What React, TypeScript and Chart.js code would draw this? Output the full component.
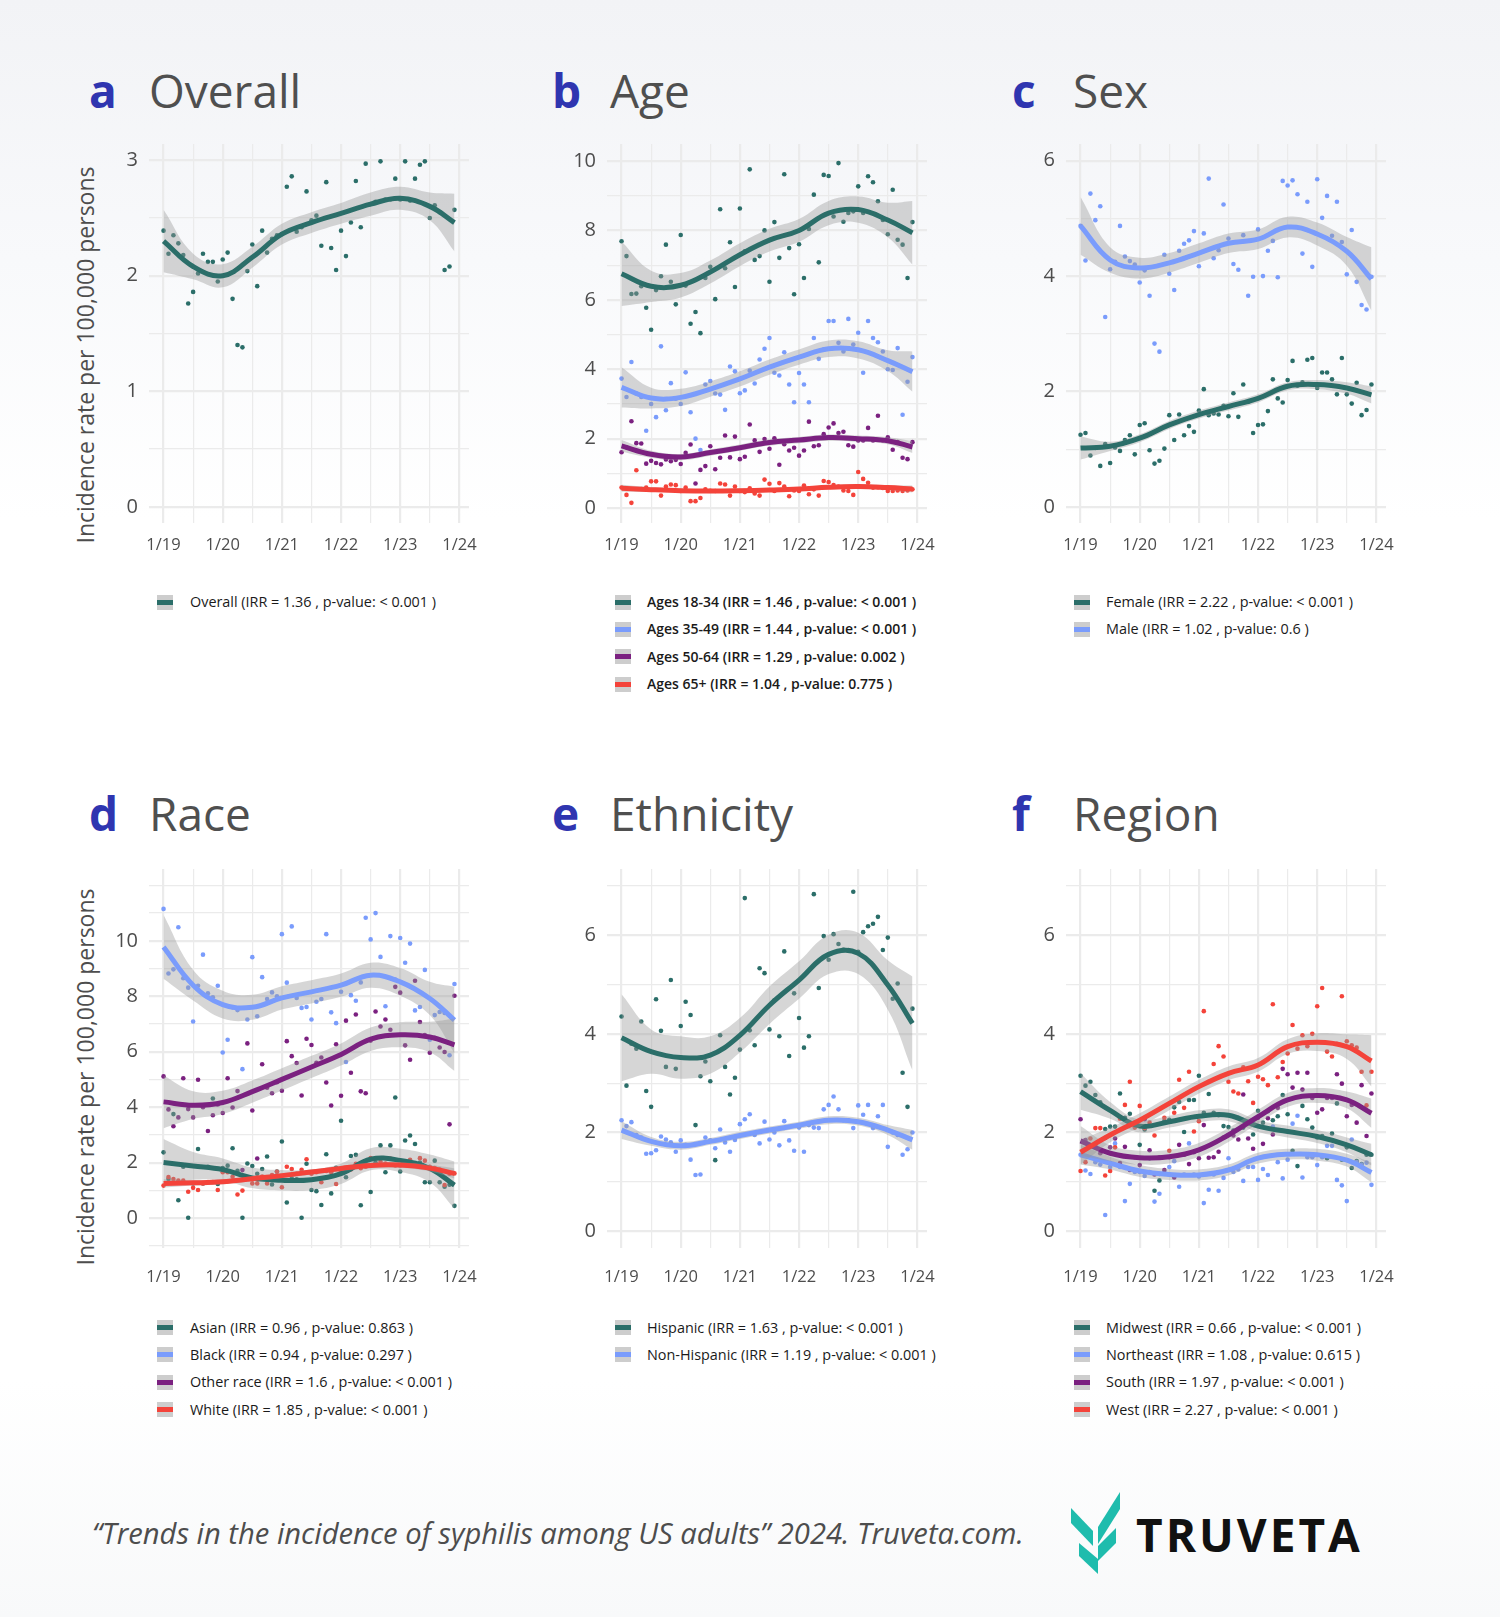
import React, { useEffect, useRef } from "react";
import { Chart, registerables } from "chart.js";

Chart.register(...registerables);

// ---------- data ----------
// monthly samples Jan 2019 (0) .. Dec 2023 (59)
const MONTHS = [...Array(60).keys()];
// months at which the smoothed fit / confidence band was read
const FIT_MONTHS = [0, 6, 12, 18, 24, 30, 36, 42, 48, 54, 59];
const X_TICKS = [0, 6, 12, 18, 24, 30, 36, 42, 48, 54, 60];
const X_LABELS = ["1/19", "1/20", "1/21", "1/22", "1/23", "1/24"];

// a Overall
const OVERALL_PTS = [2.39,2.19,2.35,2.28,2.18,1.76,1.86,2.02,2.19,2.12, 2.12,1.95,2.14,2.2,1.8,1.4,1.38,2.04,2.27,1.91, 2.39,2.2,2.32,2.35,2.36,2.77,2.86,2.38,2.42,2.73, 2.48,2.52,2.26,2.81,2.24,2.05,2.39,2.17,2.46,2.82, 2.42,2.97,2.62,2.64,2.99,2.66,2.66,2.84,2.66,2.99, 2.65,2.84,2.96,2.99,2.5,2.61,2.55,2.05,2.08,2.57];
const OVERALL_FIT = [2.3,2.08,2.0,2.16,2.36,2.46,2.54,2.62,2.67,2.6,2.46];
const OVERALL_CI = [0.27,0.11,0.1,0.09,0.09,0.09,0.09,0.1,0.1,0.12,0.25];

// b Age
const AGE1834_PTS = [7.69,7.26,6.17,6.18,6.39,5.77,5.14,6.28,6.68,7.59, 6.52,5.87,7.87,6.41,5.31,5.65,5.04,6.63,6.95,6.02, 8.61,6.91,7.66,6.37,8.63,7.4,9.76,7.15,7.26,8.0, 6.52,8.24,7.21,9.62,7.49,6.16,7.6,6.63,8.04,9.03, 7.08,9.6,9.57,8.4,9.94,8.25,8.5,8.55,9.27,8.5, 9.56,9.39,8.84,8.3,7.89,9.17,7.73,7.59,6.63,8.24];
const AGE1834_FIT = [6.75,6.39,6.42,6.8,7.3,7.72,8.0,8.5,8.6,8.3,7.93];
const AGE1834_CI = [0.93,0.45,0.35,0.33,0.33,0.33,0.33,0.35,0.38,0.5,0.92];
const AGE3549_PTS = [3.73,3.2,4.21,3.3,3.2,2.23,3.0,2.62,4.66,2.82, 3.6,3.15,3.0,3.91,2.76,2.0,1.67,3.56,3.66,3.3, 3.27,2.83,4.08,3.94,3.31,3.39,3.96,3.59,4.28,4.59, 4.9,3.9,3.82,4.49,3.56,3.05,3.89,3.56,3.05,4.9, 4.3,4.57,5.39,5.39,4.76,4.51,5.45,4.71,5.05,3.9, 5.39,4.9,4.78,4.51,4.0,3.98,4.61,2.69,3.64,4.35];
const AGE3549_FIT = [3.48,3.17,3.19,3.43,3.72,4.06,4.35,4.59,4.56,4.25,3.93];
const AGE3549_CI = [0.58,0.3,0.25,0.22,0.22,0.22,0.22,0.24,0.25,0.3,0.58];
const AGE5064_PTS = [1.61,1.75,2.5,1.87,1.86,1.28,1.36,1.3,1.26,1.4, 1.35,1.39,1.27,1.59,1.83,0.71,1.1,1.21,1.78,1.12, 1.45,2.09,1.46,2.06,1.41,1.48,2.41,1.95,1.62,1.99, 1.71,2.01,1.25,1.84,1.66,1.74,1.51,1.66,2.49,1.78, 1.81,2.13,2.32,2.44,2.16,2.2,1.81,1.77,1.95,1.95, 2.31,1.95,2.66,1.95,2.04,1.68,1.9,1.45,1.41,1.9];
const AGE5064_FIT = [1.79,1.55,1.47,1.6,1.74,1.89,1.96,2.03,2.0,1.94,1.76];
const AGE5064_CI = [0.17,0.1,0.09,0.09,0.09,0.09,0.09,0.09,0.09,0.1,0.17];
const AGE65_PTS = [0.59,0.38,0.15,1.09,0.55,0.59,0.77,0.77,0.36,0.62, 0.68,0.66,0.49,0.59,0.2,0.2,0.29,0.54,0.5,0.49, 0.71,0.68,0.36,0.62,0.49,0.46,0.57,0.42,0.36,0.82, 0.7,0.49,0.72,0.62,0.34,0.51,0.49,0.65,0.4,0.54, 0.36,0.78,0.75,0.66,0.62,0.51,0.49,0.38,1.04,0.84, 0.73,0.59,0.6,0.58,0.49,0.49,0.51,0.49,0.51,0.54];
const AGE65_FIT = [0.57,0.53,0.5,0.49,0.5,0.52,0.55,0.6,0.62,0.59,0.55];
const AGE65_CI = [0.1,0.07,0.06,0.06,0.06,0.06,0.06,0.06,0.07,0.07,0.1];

// c Sex
const FEMALE_PTS = [1.25,1.28,0.89,1.02,0.71,1.09,0.76,1.03,0.97,1.16, 1.24,0.91,1.42,1.45,0.98,0.75,0.8,1.01,1.59,1.16, 1.6,1.24,1.4,1.3,1.67,2.04,1.59,1.62,1.6,1.75, 1.57,1.97,1.56,2.12,1.82,1.28,1.42,1.43,1.66,2.21, 1.88,1.81,2.2,2.53,2.1,2.16,2.55,2.58,2.06,2.33, 2.33,2.21,1.95,2.58,1.95,1.79,2.15,1.59,1.68,2.12];
const FEMALE_FIT = [1.02,1.05,1.19,1.42,1.6,1.74,1.88,2.09,2.12,2.06,1.94];
const FEMALE_CI = [0.2,0.08,0.07,0.07,0.07,0.07,0.07,0.07,0.08,0.1,0.15];
const MALE_PTS = [4.87,4.27,5.43,4.97,5.21,3.29,4.12,4.25,4.87,4.34, 4.26,4.2,3.89,4.1,3.66,2.83,2.69,4.37,4.04,3.76, 4.44,4.56,4.62,4.78,4.17,4.74,5.69,4.31,4.45,5.24, 4.65,4.21,4.11,4.71,3.66,3.99,4.81,4.0,4.44,4.61, 3.98,5.65,5.57,5.66,5.42,4.39,5.29,4.16,5.68,5.01, 5.39,4.7,5.29,4.59,4.03,4.8,3.9,3.5,3.42,3.99];
const MALE_FIT = [4.87,4.28,4.14,4.23,4.4,4.57,4.64,4.85,4.73,4.43,3.95];
const MALE_CI = [0.5,0.22,0.18,0.17,0.17,0.17,0.17,0.18,0.2,0.25,0.55];

// d Race
const ASIAN_PTS = [2.37,1.41,3.75,0.64,1.85,0.01,1.25,2.49,1.25,1.85, 4.31,1.23,1.8,1.89,2.52,1.7,0.01,1.97,1.88,1.6, 1.77,2.22,1.21,1.68,2.76,0.56,1.43,1.4,0.01,1.96, 1.01,0.97,0.47,2.3,0.89,1.81,3.51,1.47,2.24,2.28, 0.46,1.9,0.94,2.0,2.62,1.65,2.62,4.35,1.68,2.8, 2.98,2.67,2.0,1.29,1.29,2.07,1.29,1.13,1.2,0.44];
const ASIAN_FIT = [2.0,1.88,1.75,1.45,1.36,1.38,1.6,2.12,2.08,1.79,1.19];
const ASIAN_CI = [0.85,0.5,0.4,0.37,0.37,0.37,0.37,0.4,0.42,0.5,0.85];
const BLACK_PTS = [11.15,8.82,8.97,10.49,8.65,8.31,7.09,8.38,9.5,8.11, 7.96,8.38,5.97,6.43,7.6,7.5,5.37,7.16,9.41,7.28, 8.69,7.9,8.14,8.0,10.24,8.49,10.52,7.94,7.58,7.61, 7.16,7.8,7.9,10.24,7.42,7.03,8.16,5.63,8.04,7.84, 8.5,10.83,10.05,11.0,9.42,7.64,10.17,8.6,10.1,9.21, 9.9,7.49,7.61,8.95,6.43,7.32,7.43,7.4,5.87,8.44];
const BLACK_FIT = [9.78,8.4,7.7,7.6,7.94,8.16,8.4,8.76,8.52,7.92,7.14];
const BLACK_CI = [1.15,0.55,0.5,0.45,0.42,0.42,0.42,0.45,0.5,0.6,1.2];
const OTHER_PTS = [5.11,3.92,3.31,3.63,5.04,3.93,3.63,4.99,4.0,3.14, 3.71,4.1,3.79,5.04,3.99,4.58,1.73,6.3,3.88,2.15, 5.55,4.7,4.5,4.9,4.59,6.38,5.84,5.59,4.42,6.47, 6.24,5.6,5.79,4.89,4.06,6.27,4.41,7.12,5.24,7.34, 4.57,4.5,6.4,7.45,6.91,7.16,6.79,8.34,8.13,6.23, 5.71,8.56,7.07,6.6,5.96,6.5,6.15,5.99,3.38,8.02];
const OTHER_FIT = [4.19,4.07,4.17,4.56,5.0,5.45,5.9,6.45,6.61,6.53,6.25];
const OTHER_CI = [0.95,0.5,0.42,0.4,0.4,0.4,0.4,0.42,0.45,0.55,0.95];
const WHITE_PTS = [1.17,1.48,1.41,1.35,1.35,0.95,1.09,1.01,1.25,1.3, 1.3,1.01,1.65,1.65,1.49,0.85,0.99,1.45,1.25,1.25, 1.5,1.25,1.55,1.67,1.11,1.85,1.77,1.6,1.74,2.12, 1.6,1.65,1.29,1.7,1.65,1.23,1.69,1.75,1.75,1.96, 1.8,1.85,2.16,2.14,2.03,1.97,2.15,1.9,1.9,1.95, 2.1,1.9,2.16,2.07,1.85,1.8,1.75,1.19,1.6,1.61];
const WHITE_FIT = [1.25,1.27,1.31,1.42,1.53,1.66,1.79,1.9,1.91,1.8,1.61];
const WHITE_CI = [0.15,0.1,0.09,0.09,0.09,0.09,0.09,0.1,0.1,0.12,0.18];

// e Ethnicity
const HISP_PTS = [4.35,2.95,3.8,3.7,4.25,2.84,2.52,4.7,4.06,3.33, 5.09,3.29,4.16,4.65,4.38,2.15,3.14,3.44,3.04,1.44, 3.97,3.33,2.77,3.11,3.68,6.75,4.07,3.77,5.33,5.23, 4.09,4.68,3.95,5.67,3.55,4.82,4.32,3.72,3.95,6.83, 4.93,5.98,5.5,6.02,5.82,5.71,5.7,6.88,5.66,6.06, 6.18,6.23,6.37,5.7,5.95,4.71,5.02,3.21,2.52,4.51];
const HISP_FIT = [3.92,3.64,3.52,3.57,3.97,4.58,5.09,5.61,5.63,4.99,4.21];
const HISP_CI = [0.88,0.45,0.43,0.38,0.35,0.38,0.38,0.4,0.42,0.5,0.95];
const NONHISP_PTS = [2.25,2.13,2.21,1.95,1.9,1.57,1.58,1.64,1.92,1.86, 1.8,1.61,1.84,1.75,1.45,1.14,1.15,1.9,1.84,1.68, 2.06,1.8,1.61,1.85,2.17,2.27,2.37,1.95,1.78,2.22, 1.86,2.0,1.74,2.23,1.84,1.63,2.1,1.61,2.15,2.1, 2.09,2.47,2.56,2.73,2.47,2.25,2.25,2.09,2.55,2.36, 2.56,2.09,2.33,2.56,1.71,2.0,1.95,1.55,1.66,2.0];
const NONHISP_FIT = [2.05,1.82,1.73,1.82,1.94,2.05,2.15,2.25,2.22,2.05,1.85];
const NONHISP_CI = [0.18,0.09,0.08,0.07,0.07,0.07,0.07,0.08,0.08,0.1,0.2];

// f Region
const MIDWEST_PTS = [3.15,2.95,3.03,2.76,2.61,2.07,2.12,2.12,2.79,2.3, 2.38,2.2,1.75,2.06,1.48,0.82,1.03,2.23,2.26,2.51, 2.62,2.01,2.66,2.66,3.15,2.4,2.78,2.4,2.35,2.13, 2.11,2.04,2.3,2.1,2.2,1.96,2.44,2.2,2.43,2.25, 2.33,2.76,2.37,1.63,1.32,2.54,2.27,2.1,1.9,1.93, 1.48,1.98,2.59,1.45,1.7,1.28,1.42,1.36,1.55,1.55];
const MIDWEST_FIT = [2.83,2.45,2.13,2.22,2.33,2.35,2.13,2.02,1.92,1.75,1.55];
const MIDWEST_CI = [0.37,0.17,0.13,0.12,0.12,0.12,0.12,0.12,0.13,0.15,0.22];
const NORTHEAST_PTS = [1.55,1.23,1.16,1.4,1.35,0.33,1.3,1.78,1.3,0.61, 0.96,1.2,1.2,1.12,1.2,0.6,0.76,1.2,1.3,1.42, 0.9,1.15,1.78,1.15,1.11,0.57,0.84,1.15,0.82,1.08, 1.48,1.2,1.25,1.02,1.3,1.3,1.04,1.26,1.14,2.12, 1.4,1.07,1.45,2.18,2.34,1.09,1.5,1.5,1.34,1.5, 1.73,1.73,1.04,0.93,0.61,1.86,1.4,1.35,1.39,0.94];
const NORTHEAST_FIT = [1.55,1.38,1.22,1.15,1.14,1.24,1.48,1.56,1.55,1.44,1.19];
const NORTHEAST_CI = [0.2,0.13,0.12,0.11,0.11,0.11,0.11,0.11,0.12,0.13,0.2];
const SOUTH_PTS = [2.27,1.85,1.74,1.75,1.58,1.89,1.7,1.88,1.38,1.71, 1.24,1.5,1.34,2.27,1.64,1.15,1.5,1.24,1.5,1.09, 1.75,1.55,1.36,1.6,1.48,2.15,1.49,1.5,1.61,1.9, 1.95,1.94,1.86,2.77,1.88,1.67,2.3,1.77,2.29,1.96, 2.5,3.29,3.18,2.91,3.21,2.87,3.21,2.7,2.4,2.47, 2.7,2.7,3.18,2.99,2.33,2.56,2.2,2.96,1.93,2.79];
const SOUTH_FIT = [1.83,1.58,1.49,1.51,1.65,1.95,2.32,2.66,2.75,2.66,2.39];
const SOUTH_CI = [0.3,0.16,0.14,0.14,0.14,0.14,0.14,0.14,0.15,0.17,0.3];
const WEST_PTS = [1.22,1.4,1.88,2.09,2.09,1.13,1.22,1.7,2.28,2.56, 3.03,2.1,2.54,2.09,2.2,1.94,1.16,2.3,1.63,2.4, 3.07,2.5,3.23,2.02,2.23,4.46,3.03,3.39,3.75,3.54, 3.03,2.83,2.79,3.32,3.04,2.6,3.13,3.08,2.96,4.6, 3.12,3.43,3.6,4.18,3.7,3.97,3.75,4.0,4.56,4.93, 3.64,3.54,3.8,4.76,3.85,3.77,3.72,3.23,2.55,3.23];
const WEST_FIT = [1.6,1.95,2.25,2.59,2.93,3.2,3.37,3.74,3.83,3.74,3.45];
const WEST_CI = [0.25,0.15,0.14,0.14,0.14,0.14,0.14,0.15,0.18,0.25,0.52];

// y-axis grid values and labelled ticks
const Y_GRID_A = [0, 0.5, 1, 1.5, 2, 2.5, 3];
const Y_LABELS_A = [0, 1, 2, 3];
const Y_GRID_B = [0, 1, 2, 3, 4, 5, 6, 7, 8, 9, 10];
const Y_LABELS_B = [0, 2, 4, 6, 8, 10];
const Y_GRID_C = [0, 1, 2, 3, 4, 5, 6];
const Y_LABELS_C = [0, 2, 4, 6];
const Y_GRID_D = [-1, 0, 1, 2, 3, 4, 5, 6, 7, 8, 9, 10, 11, 12];
const Y_LABELS_D = [0, 2, 4, 6, 8, 10];
const Y_GRID_EF = [0, 1, 2, 3, 4, 5, 6, 7];
const Y_LABELS_EF = [0, 2, 4, 6];

// ---------- styling ----------
const TEAL = "#2b6e69";
const BLUE = "#7a9cfc";
const PURPLE = "#7b2180";
const RED = "#f4433a";
const BAND = "rgba(153,153,153,0.4)";
const GRID = "#ebebeb";
const FONT = "'Open Sans', 'Noto Sans', sans-serif";

const COL_LEFT = [149, 607, 1066];
const ROW_TOP = [144, 869];
const CHART_W = 320;
const CHART_H = 379;
const WY = 60, PT = 10, PR = 26, HX = 52;
const LETTER_X = [89, 552, 1012];
const WORD_X = [149, 610, 1073];
const TITLE_TOP = [67, 790];
const SWATCH_X = [157, 615, 1074];
const TEXT_X = [190, 647, 1106];
const LEGEND_Y = [602, 1327.5];
const LEGEND_STEP = 27.4;
const XLABEL_PAD = [12.5, 19.5];

const PANELS = [
  { letter: "a", title: "Overall", col: 0, row: 0, yMin: -0.14, yMax: 3.14, yGrid: Y_GRID_A, yLabels: Y_LABELS_A, yTitle: true, bold: false,
    series: [{ name: "Overall (IRR = 1.36 , p-value: < 0.001 )", color: TEAL, pts: OVERALL_PTS, fit: OVERALL_FIT, ci: OVERALL_CI }] },
  { letter: "b", title: "Age", col: 1, row: 0, yMin: -0.43, yMax: 10.49, yGrid: Y_GRID_B, yLabels: Y_LABELS_B, yTitle: false, bold: true,
    series: [
      { name: "Ages 18-34 (IRR = 1.46 , p-value: < 0.001 )", color: TEAL, pts: AGE1834_PTS, fit: AGE1834_FIT, ci: AGE1834_CI },
      { name: "Ages 35-49 (IRR = 1.44 , p-value: < 0.001 )", color: BLUE, pts: AGE3549_PTS, fit: AGE3549_FIT, ci: AGE3549_CI },
      { name: "Ages 50-64 (IRR = 1.29 , p-value: 0.002 )", color: PURPLE, pts: AGE5064_PTS, fit: AGE5064_FIT, ci: AGE5064_CI },
      { name: "Ages 65+ (IRR = 1.04 , p-value: 0.775 )", color: RED, pts: AGE65_PTS, fit: AGE65_FIT, ci: AGE65_CI },
    ] },
  { letter: "c", title: "Sex", col: 2, row: 0, yMin: -0.28, yMax: 6.29, yGrid: Y_GRID_C, yLabels: Y_LABELS_C, yTitle: false, bold: false,
    series: [
      { name: "Female (IRR = 2.22 , p-value: < 0.001 )", color: TEAL, pts: FEMALE_PTS, fit: FEMALE_FIT, ci: FEMALE_CI },
      { name: "Male (IRR = 1.02 , p-value: 0.6 )", color: BLUE, pts: MALE_PTS, fit: MALE_FIT, ci: MALE_CI },
    ] },
  { letter: "d", title: "Race", col: 0, row: 1, yMin: -1.08, yMax: 12.59, yGrid: Y_GRID_D, yLabels: Y_LABELS_D, yTitle: true, bold: false,
    series: [
      { name: "Asian (IRR = 0.96 , p-value: 0.863 )", color: TEAL, pts: ASIAN_PTS, fit: ASIAN_FIT, ci: ASIAN_CI },
      { name: "Black (IRR = 0.94 , p-value: 0.297 )", color: BLUE, pts: BLACK_PTS, fit: BLACK_FIT, ci: BLACK_CI },
      { name: "Other race (IRR = 1.6 , p-value: < 0.001 )", color: PURPLE, pts: OTHER_PTS, fit: OTHER_FIT, ci: OTHER_CI },
      { name: "White (IRR = 1.85 , p-value: < 0.001 )", color: RED, pts: WHITE_PTS, fit: WHITE_FIT, ci: WHITE_CI },
    ] },
  { letter: "e", title: "Ethnicity", col: 1, row: 1, yMin: -0.34, yMax: 7.34, yGrid: Y_GRID_EF, yLabels: Y_LABELS_EF, yTitle: false, bold: false,
    series: [
      { name: "Hispanic (IRR = 1.63 , p-value: < 0.001 )", color: TEAL, pts: HISP_PTS, fit: HISP_FIT, ci: HISP_CI },
      { name: "Non-Hispanic (IRR = 1.19 , p-value: < 0.001 )", color: BLUE, pts: NONHISP_PTS, fit: NONHISP_FIT, ci: NONHISP_CI },
    ] },
  { letter: "f", title: "Region", col: 2, row: 1, yMin: -0.34, yMax: 7.34, yGrid: Y_GRID_EF, yLabels: Y_LABELS_EF, yTitle: false, bold: false,
    series: [
      { name: "Midwest (IRR = 0.66 , p-value: < 0.001 )", color: TEAL, pts: MIDWEST_PTS, fit: MIDWEST_FIT, ci: MIDWEST_CI },
      { name: "Northeast (IRR = 1.08 , p-value: 0.615 )", color: BLUE, pts: NORTHEAST_PTS, fit: NORTHEAST_FIT, ci: NORTHEAST_CI },
      { name: "South (IRR = 1.97 , p-value: < 0.001 )", color: PURPLE, pts: SOUTH_PTS, fit: SOUTH_FIT, ci: SOUTH_CI },
      { name: "West (IRR = 2.27 , p-value: < 0.001 )", color: RED, pts: WEST_PTS, fit: WEST_FIT, ci: WEST_CI },
    ] },
];

const SMOOTH = { cubicInterpolationMode: "default", tension: 0.4 };

function PanelChart({ panel }: { panel: any }) {
  const ref = useRef<HTMLCanvasElement>(null);
  useEffect(() => {
    if (!ref.current) return;
    const layers: any[] = [];
    panel.series.forEach((s: any) => {
      layers.push({
        data: MONTHS.map((m, i) => ({ x: m, y: s.pts[i] })),
        showLine: false,
        pointRadius: 2.3,
        pointHoverRadius: 2.3,
        pointBorderWidth: 0,
        pointBackgroundColor: s.color,
        borderColor: s.color,
        backgroundColor: s.color,
        fill: false,
      });
    });
    panel.series.forEach((s: any) => {
      const upperIdx = layers.length;
      layers.push({
        data: FIT_MONTHS.map((m, k) => ({ x: m, y: s.fit[k] + s.ci[k] })),
        borderWidth: 0,
        borderColor: "rgba(0,0,0,0)",
        pointRadius: 0,
        pointHoverRadius: 0,
        fill: upperIdx + 1,
        backgroundColor: BAND,
        ...SMOOTH,
      });
      layers.push({
        data: FIT_MONTHS.map((m, k) => ({ x: m, y: s.fit[k] - s.ci[k] })),
        borderWidth: 0,
        borderColor: "rgba(0,0,0,0)",
        pointRadius: 0,
        pointHoverRadius: 0,
        fill: false,
        ...SMOOTH,
      });
      layers.push({
        data: FIT_MONTHS.map((m, k) => ({ x: m, y: s.fit[k] })),
        borderColor: s.color,
        borderWidth: 5,
        borderCapStyle: "butt",
        pointRadius: 0,
        pointHoverRadius: 0,
        fill: false,
        ...SMOOTH,
      });
    });
    layers.forEach((d, i) => { d.order = layers.length - i; });

    const chart = new Chart(ref.current, {
      type: "line",
      data: { datasets: layers },
      options: {
        animation: false,
        responsive: false,
        maintainAspectRatio: false,
        devicePixelRatio: 1,
        events: [],
        layout: { padding: { top: PT, right: PR, left: 0, bottom: 0 } },
        plugins: { legend: { display: false }, tooltip: { enabled: false } },
        scales: {
          x: {
            type: "linear",
            min: -2.95,
            max: 61.95,
            afterBuildTicks: (s: any) => { s.ticks = X_TICKS.map((v) => ({ value: v })); },
            afterFit: (s: any) => { s.height = HX; s.paddingLeft = 0; s.paddingRight = 0; },
            ticks: {
              autoSkip: false, maxRotation: 0, minRotation: 0,
              padding: XLABEL_PAD[panel.row],
              color: "#4d4d4d",
              font: { family: FONT, size: 16.5 },
              callback: (v: any) => (v % 12 === 0 ? X_LABELS[v / 12] : ""),
            },
            grid: {
              color: GRID,
              drawTicks: false,
              lineWidth: (c: any) => (c.tick && c.tick.value % 12 === 0 ? 2.2 : 1.2),
            },
            border: { display: false },
          },
          y: {
            type: "linear",
            min: panel.yMin,
            max: panel.yMax,
            afterBuildTicks: (s: any) => { s.ticks = panel.yGrid.map((v: number) => ({ value: v })); },
            afterFit: (s: any) => { s.width = WY; s.paddingTop = 0; s.paddingBottom = 0; },
            ticks: {
              autoSkip: false,
              padding: 11,
              color: "#4d4d4d",
              font: { family: FONT, size: 20 },
              callback: (v: any) => (panel.yLabels.includes(v) ? String(v) : ""),
            },
            grid: {
              color: GRID,
              drawTicks: false,
              lineWidth: (c: any) => (c.tick && panel.yLabels.includes(c.tick.value) ? 2.2 : 1.2),
            },
            border: { display: false },
          },
        },
      } as any,
    });
    return () => chart.destroy();
  }, [panel]);

  const left = COL_LEFT[panel.col] - WY;
  const top = ROW_TOP[panel.row] - PT;
  const w = WY + CHART_W + PR;
  const h = PT + CHART_H + HX;
  return (
    <canvas
      ref={ref}
      width={w}
      height={h}
      style={{ position: "absolute", left, top, width: w, height: h }}
    />
  );
}

function Panel({ panel }: { panel: any }) {
  const col = panel.col;
  const row = panel.row;
  return (
    <>
      <div style={{ position: "absolute", left: LETTER_X[col], top: TITLE_TOP[row], fontSize: 46, lineHeight: "46px", fontWeight: 700, color: "#2f35b0", fontFamily: FONT }}>
        {panel.letter}
      </div>
      <div style={{ position: "absolute", left: WORD_X[col], top: TITLE_TOP[row], fontSize: 46, lineHeight: "46px", color: "#4f4f4f", fontFamily: FONT, whiteSpace: "nowrap" }}>
        {panel.title}
      </div>
      {panel.yTitle && (
        <div style={{
          position: "absolute", left: 85 - 220, top: (row === 0 ? 355 : 1077) - 15, width: 440, height: 30,
          lineHeight: "30px", textAlign: "center", fontSize: 23, color: "#4d4d4d", fontFamily: FONT,
          transform: "rotate(-90deg)", whiteSpace: "nowrap",
        }}>
          Incidence rate per 100,000 persons
        </div>
      )}
      <PanelChart panel={panel} />
      {panel.series.map((s: any, i: number) => {
        const cy = LEGEND_Y[row] + i * LEGEND_STEP;
        return (
          <React.Fragment key={s.name}>
            <div style={{ position: "absolute", left: SWATCH_X[col], top: cy - 7.5, width: 16, height: 15, background: "#cdcdcd" }}>
              <div style={{ position: "absolute", left: 0, right: 0, top: 5, height: 5, background: s.color }} />
            </div>
            <div style={{
              position: "absolute", left: TEXT_X[col], top: cy - 11, height: 22, lineHeight: "22px",
              fontSize: panel.bold ? 14 : 14.4, fontWeight: panel.bold ? 600 : 400, color: "#1a1a1a",
              fontFamily: FONT, whiteSpace: "nowrap",
            }}>
              {s.name}
            </div>
          </React.Fragment>
        );
      })}
    </>
  );
}

function Logo() {
  return (
    <svg width={50} height={82} viewBox="0 0 50 82" style={{ position: "absolute", left: 1071, top: 1492 }}>
      <polygon points="49,0 49,17 27,52 27,35" fill="#1fbcad" />
      <polygon points="0,16 0,31 22,54 22,39" fill="#1fbcad" />
      <polygon points="45,36 45,51 27,69 27,54" fill="#1fbcad" />
      <polygon points="8,51 8,64 27,82 27,67" fill="#1fbcad" />
    </svg>
  );
}

export default function App() {
  useEffect(() => {
    document.body.style.margin = "0";
  }, []);
  return (
    <div style={{
      position: "absolute", left: 0, top: 0, width: 1500, height: 1617, overflow: "hidden",
      background: "linear-gradient(180deg, #f2f3f6 0px, #f8f9fb 260px, #ffffff 520px, #ffffff 1380px, #f8f9fa 1617px)",
      fontFamily: FONT,
    }}>
      {PANELS.map((p) => <Panel key={p.letter} panel={p} />)}
      <div style={{
        position: "absolute", left: 92, top: 1513, height: 40, lineHeight: "40px", fontSize: 29.2,
        fontStyle: "italic", color: "#4d4d4d", fontFamily: FONT, whiteSpace: "nowrap",
      }}>
        “Trends in the incidence of syphilis among US adults” 2024. Truveta.com.
      </div>
      <Logo />
      <div style={{
        position: "absolute", left: 1136, top: 1511, height: 46, lineHeight: "46px", fontSize: 46,
        fontWeight: 700, letterSpacing: 3, color: "#111111", fontFamily: FONT, whiteSpace: "nowrap",
      }}>
        TRUVETA
      </div>
    </div>
  );
}
